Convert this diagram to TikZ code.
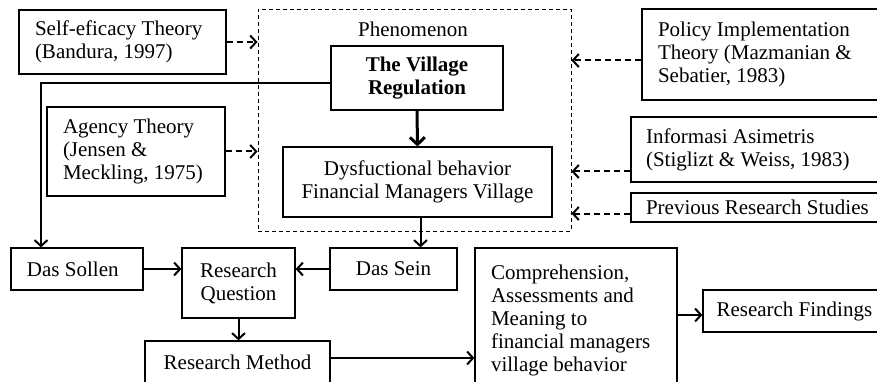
\documentclass[tikz,border=0pt]{standalone}
\usepackage{fontspec}
\setmainfont{Liberation Serif}
\usetikzlibrary{arrows.meta}
\begin{document}
\begin{tikzpicture}[x=1pt,y=-1pt,
  txt/.style={font=\fontsize{21}{23}\selectfont},
  box/.style={txt, draw, line width=1.2pt, inner sep=0pt},
  lbox/.style={box, align=flush left},
  cbox/.style={box, align=center},
  frame/.style={draw, line width=0.9pt, dash pattern=on 4pt off 3pt, inner sep=0pt},
  arr/.style={line width=2pt, -{Straight Barb[length=6pt,width=13pt]}},
  bigarr/.style={line width=3pt, -{Straight Barb[length=7pt,width=15pt]}},
  darr/.style={arr, dash pattern=on 6pt off 4pt}]
\useasboundingbox (0,0) rectangle (877,382);
\clip (0,0) rectangle (877,382);

% phenomenon frame
\node[frame, minimum width=313pt, minimum height=222pt] (phen) at (414.5,120) {};
\node[txt] (phentitle) at (413,29) {Phenomenon};
\node[cbox, minimum width=172pt, minimum height=64pt, font=\fontsize{21}{23}\selectfont\bfseries]
  (village) at (417,78) {The Village\\Regulation};
\node[cbox, minimum width=269pt, minimum height=70pt] (dysf) at (417.5,182)
  {Dysfuctional behavior\\Financial Managers Village};

% theories on the left
\node[lbox, minimum width=207pt, minimum height=64pt, text width=175pt] (self) at (122.5,42)
  {Self-eficacy Theory\\(Bandura, 1997)};
\node[lbox, minimum width=178pt, minimum height=89pt, text width=146pt] (agency) at (136,151.5)
  {Agency Theory\\(Jensen \&\\Meckling, 1975)};

% theories on the right (their boxes run past the right edge)
\node[lbox, minimum width=248pt, minimum height=91pt, text width=216pt] (policy) at (766,54.5)
  {Policy Implementation\\Theory (Mazmanian \&\\Sebatier, 1983)};
\node[lbox, minimum width=258pt, minimum height=65pt, text width=228pt] (info) at (760,149.5)
  {Informasi Asimetris\\(Stiglizt \& Weiss, 1983)};
\node[lbox, minimum width=258pt, minimum height=29pt, text width=228pt] (prev) at (760,207.5)
  {Previous Research Studies};

% research flow
\node[lbox, minimum width=132pt, minimum height=42pt, text width=100pt] (sollen) at (77,269) {Das Sollen};
\node[cbox, minimum width=113pt, minimum height=70pt] (rq) at (238.5,283) {Research\\Question};
\node[cbox, minimum width=127pt, minimum height=42pt] (sein) at (393.5,269) {Das Sein};
\node[cbox, minimum width=185pt, minimum height=46pt] (method) at (237.5,364)
  {\raisebox{3pt}{Research Method}};
\node[lbox, minimum width=202pt, minimum height=144pt, text width=170pt] (compr) at (576,320)
  {Comprehension,\\Assessments and\\Meaning to\\financial managers\\village behavior};
\node[lbox, minimum width=187pt, minimum height=42pt, text width=160pt] (find) at (796.5,311)
  {Research Findings};

% connectors
\draw[darr] (self.east) -- (self.east -| phen.west);
\draw[darr] (agency.east) -- (agency.east -| phen.west);
\draw[darr] ([yshift=-6pt]policy.west) -- ([yshift=-6pt]policy.west -| phen.east);
\draw[darr] ([yshift=-22pt]info.west) -- ([yshift=-22pt]info.west -| phen.east);
\draw[darr] ([yshift=-6pt]prev.west) -- ([yshift=-6pt]prev.west -| phen.east);
\draw[bigarr] (village.south) -- (dysf.north);
\draw[arr] ([yshift=-5pt]village.west) -| ([xshift=-36pt]sollen.north);
\draw[arr] ([xshift=3pt]dysf.south) -- ([xshift=3pt]dysf.south |- sein.north);
\draw[arr] (sollen.east) -- (sollen.east -| rq.west);
\draw[arr] (sein.west) -- (sein.west -| rq.east);
\draw[arr] (rq.south) -- (rq.south |- method.north);
\draw[arr] ([yshift=6pt]method.east) -- ([yshift=6pt]method.east -| compr.west);
\draw[arr] ([yshift=-4pt]find.west -| compr.east) -- ([yshift=-4pt]find.west);
\end{tikzpicture}
\end{document}
